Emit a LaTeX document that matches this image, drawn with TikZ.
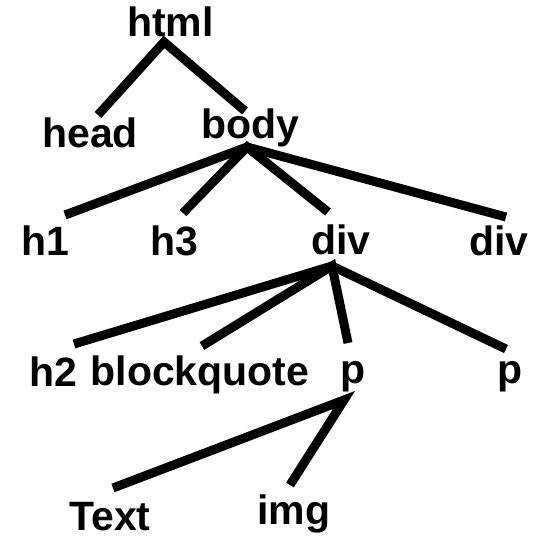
\documentclass[tikz,border=0pt]{standalone}
\usepackage{fontspec}
\setmainfont{Liberation Sans}
\begin{document}
\begin{tikzpicture}[x=1pt,y=1pt,
  tag/.style={anchor=base,inner sep=0pt,font=\bfseries\fontsize{41}{49}\selectfont},
  edge/.style={line width=9pt,line cap=butt,line join=miter,miter limit=4}]
\useasboundingbox (0,0) rectangle (548,542);

% element names
\node[tag] (html)  at (170.5,505) {html};
\node[tag] (head)  at (90,395)    {head};
\node[tag] (body)  at (250,404)   {body};
\node[tag] (h1)    at (45,287)    {h1};
\node[tag] (h3)    at (174,287)   {h3};
\node[tag] (div1)  at (341,288)   {div};
\node[tag] (div2)  at (499,287)   {div};
\node[tag] (h2)    at (53,156)    {h2};
\node[tag] (bq)    at (200,157)   {blockquote};
\node[tag] (p1)    at (353.5,159) {p};
\node[tag] (p2)    at (510,159)   {p};
\node[tag] (txt)   at (110,12)    {Text};
\node[tag] (img)   at (294,18)    {img};

% junction points below each parent
\coordinate (html-j) at (164,500);
\coordinate (body-j) at (247,395);
\coordinate (div1-j) at (332,276);
\coordinate (p1-j)   at (344,142);

% end points above each child
\coordinate (head-e) at (98,427);
\coordinate (body-e) at (245,431);
\coordinate (h1-e)   at (65,327);
\coordinate (h3-e)   at (183,329);
\coordinate (div1-e) at (328,330);
\coordinate (div2-e) at (506,325);
\coordinate (h2-e)   at (74,198);
\coordinate (bq-e)   at (202,196);
\coordinate (p1-e)   at (348,199);
\coordinate (p2-e)   at (506,193);
\coordinate (txt-e)  at (113,54);
\coordinate (img-e)  at (290,57);

% tree edges
\draw[edge] (head-e) -- (html-j) -- (body-e);
\draw[edge] (h1-e) -- (body-j) -- (div2-e);
\draw[edge] (h3-e) -- (body-j) -- (div1-e);
\draw[edge] (h2-e) -- (div1-j) -- (p2-e);
\draw[edge] (bq-e) -- (div1-j) -- (p1-e);
\draw[edge] (txt-e) -- (p1-j) -- (img-e);
\end{tikzpicture}
\end{document}
